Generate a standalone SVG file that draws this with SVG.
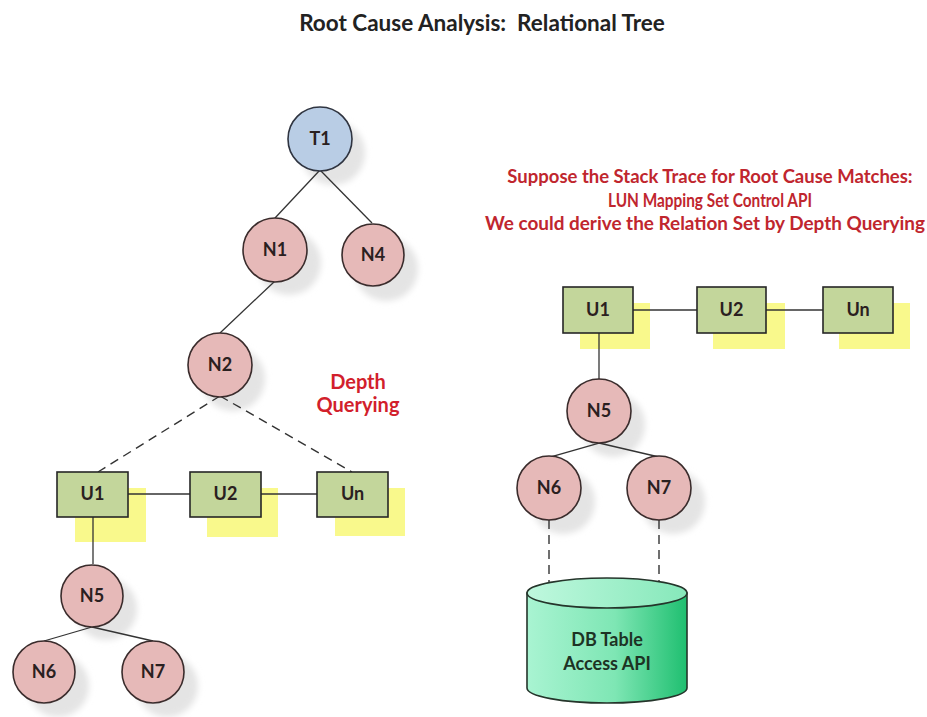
<svg xmlns="http://www.w3.org/2000/svg" width="927" height="717" viewBox="0 0 927 717">
  <style>
    text { white-space: pre; }
    .title { font-family: Lato, "Liberation Sans", sans-serif; font-weight: bold; font-size: 22.5px; fill: #222; }
    .note { font-family: Lato, "Liberation Sans", sans-serif; font-weight: bold; font-size: 18.5px; fill: #c0262e; text-anchor: middle; }
    .depth { font-family: Lato, "Liberation Sans", sans-serif; font-weight: bold; font-size: 20px; fill: #d21f2c; text-anchor: middle; }
    .lbl { font-family: Lato, "Liberation Sans", sans-serif; font-weight: bold; font-size: 18px; fill: #2a2020; text-anchor: middle; }
    .dbl { font-family: Lato, "Liberation Sans", sans-serif; font-weight: bold; font-size: 18px; fill: #1d3324; text-anchor: middle; }
    .node { fill: #e6b9b8; stroke: #3a2c2c; stroke-width: 1.6; }
    .root { fill: #b9cde5; stroke: #2f3440; stroke-width: 1.6; }
    .box { fill: #c3d69b; stroke: #262626; stroke-width: 1.6; }
    .shadow { fill: #e4e4e4; filter: url(#soft); }
    .yshadow { fill: #f9f98c; }
    .edge { stroke: #333; stroke-width: 1.3; fill: none; }
    .dash { stroke: #333; stroke-width: 1.4; fill: none; stroke-dasharray: 9 6; }
  </style>
  <defs>
    <filter id="soft" x="-30%" y="-30%" width="160%" height="160%">
      <feGaussianBlur stdDeviation="3"/>
    </filter>
    <linearGradient id="cylBody" x1="0" y1="0" x2="1" y2="0">
      <stop offset="0" stop-color="#a9f4d2"/>
      <stop offset="0.55" stop-color="#7ee6b4"/>
      <stop offset="1" stop-color="#1fbf70"/>
    </linearGradient>
    <linearGradient id="cylTop" x1="0" y1="0" x2="1" y2="0">
      <stop offset="0" stop-color="#bff8de"/>
      <stop offset="1" stop-color="#86e8ba"/>
    </linearGradient>
  </defs>

  <rect width="927" height="717" fill="#fff"/>

  <text class="title" x="482" y="31" text-anchor="middle">Root Cause Analysis:  Relational Tree</text>

  <!-- soft drop shadows behind nodes -->
  <g id="shadows">
    <circle class="shadow" cx="333" cy="153" r="32"/>
    <circle class="shadow" cx="289" cy="263" r="32"/>
    <circle class="shadow" cx="386" cy="269" r="32"/>
    <circle class="shadow" cx="233" cy="379" r="32"/>
    <circle class="shadow" cx="106" cy="609" r="31"/>
    <circle class="shadow" cx="58" cy="686" r="31"/>
    <circle class="shadow" cx="167" cy="686" r="31"/>
    <circle class="shadow" cx="613" cy="425" r="32"/>
    <circle class="shadow" cx="563" cy="502" r="32"/>
    <circle class="shadow" cx="673" cy="502" r="32"/>
    <rect class="yshadow" x="75" y="488" width="71" height="54"/>
    <rect class="yshadow" x="207" y="488" width="71" height="49"/>
    <rect class="yshadow" x="335" y="488" width="70" height="48"/>
    <rect class="yshadow" x="580" y="303" width="70" height="46"/>
    <rect class="yshadow" x="713" y="303" width="72" height="46"/>
    <rect class="yshadow" x="839" y="303" width="71" height="46"/>
  </g>

  <!-- connectors -->
  <g id="connectors">
    <line class="edge" x1="320" y1="170" x2="275" y2="218"/>
    <line class="edge" x1="320" y1="170" x2="372" y2="223"/>
    <line class="edge" x1="275" y1="281" x2="220" y2="333"/>
    <line class="dash" x1="220" y1="396" x2="98" y2="472"/>
    <line class="dash" x1="220" y1="396" x2="352" y2="472"/>
    <line class="edge" x1="128" y1="494" x2="190" y2="494"/>
    <line class="edge" x1="261" y1="494" x2="317" y2="494"/>
    <line class="edge" x1="93" y1="517" x2="93" y2="564"/>
    <line class="edge" x1="92" y1="627" x2="44" y2="641"/>
    <line class="edge" x1="92" y1="627" x2="153" y2="641"/>

    <line class="edge" x1="633" y1="310" x2="697" y2="310"/>
    <line class="edge" x1="766" y1="310" x2="823" y2="310"/>
    <line class="edge" x1="599" y1="333" x2="599" y2="379"/>
    <line class="edge" x1="599" y1="443" x2="550" y2="457"/>
    <line class="edge" x1="599" y1="443" x2="659" y2="457"/>
    <line class="dash" x1="549" y1="520" x2="549" y2="588"/>
    <line class="dash" x1="659" y1="520" x2="659" y2="586"/>
  </g>

  <!-- left tree -->
  <g id="T1"><circle class="root" cx="320" cy="139" r="32"/><text class="lbl" x="320" y="145">T1</text></g>
  <g id="N1"><circle class="node" cx="275" cy="250" r="32"/><text class="lbl" x="275" y="256">N1</text></g>
  <g id="N4"><circle class="node" cx="373" cy="255" r="31"/><text class="lbl" x="373" y="261">N4</text></g>
  <g id="N2"><circle class="node" cx="220" cy="365" r="32"/><text class="lbl" x="220" y="371">N2</text></g>
  <g id="U1-left"><rect class="box" x="57" y="472" width="71" height="45"/><text class="lbl" x="92.5" y="500">U1</text></g>
  <g id="U2-left"><rect class="box" x="190" y="472" width="71" height="45"/><text class="lbl" x="225.5" y="500">U2</text></g>
  <g id="Un-left"><rect class="box" x="317" y="472" width="71" height="45"/><text class="lbl" x="352.5" y="500">Un</text></g>
  <g id="N5-left"><circle class="node" cx="92" cy="596" r="31"/><text class="lbl" x="92" y="602">N5</text></g>
  <g id="N6-left"><circle class="node" cx="44" cy="672" r="31"/><text class="lbl" x="44" y="678">N6</text></g>
  <g id="N7-left"><circle class="node" cx="153" cy="672" r="31"/><text class="lbl" x="153" y="678">N7</text></g>

  <g id="depth-label">
    <text class="depth" x="358" y="389">Depth</text>
    <text class="depth" x="358" y="412">Querying</text>
  </g>

  <!-- right side -->
  <g id="note">
    <text class="note" x="710" y="183">Suppose the Stack Trace for Root Cause Matches:</text>
    <text class="note" x="710" y="207" font-size="17" textLength="204" lengthAdjust="spacingAndGlyphs">LUN Mapping Set Control API</text>
    <text class="note" x="705" y="230" textLength="440" lengthAdjust="spacingAndGlyphs">We could derive the Relation Set by Depth Querying</text>
  </g>

  <g id="U1-right"><rect class="box" x="563" y="287" width="70" height="46"/><text class="lbl" x="598" y="316">U1</text></g>
  <g id="U2-right"><rect class="box" x="697" y="287" width="69" height="46"/><text class="lbl" x="731.5" y="316">U2</text></g>
  <g id="Un-right"><rect class="box" x="823" y="287" width="70" height="46"/><text class="lbl" x="858" y="316">Un</text></g>
  <g id="N5-right"><circle class="node" cx="599" cy="411" r="32"/><text class="lbl" x="599" y="417">N5</text></g>
  <g id="N6-right"><circle class="node" cx="549" cy="488" r="32"/><text class="lbl" x="549" y="494">N6</text></g>
  <g id="N7-right"><circle class="node" cx="659" cy="488" r="32"/><text class="lbl" x="659" y="494">N7</text></g>

  <g id="DB">
    <path d="M527,593 L527,688 A80,15 0 0 0 687,688 L687,593 Z" fill="url(#cylBody)" stroke="#25352b" stroke-width="1.6"/>
    <ellipse cx="607" cy="593" rx="80" ry="15" fill="url(#cylTop)" stroke="#25352b" stroke-width="1.6"/>
    <text class="dbl" x="607" y="646">DB Table</text>
    <text class="dbl" x="607" y="670">Access API</text>
  </g>
</svg>
